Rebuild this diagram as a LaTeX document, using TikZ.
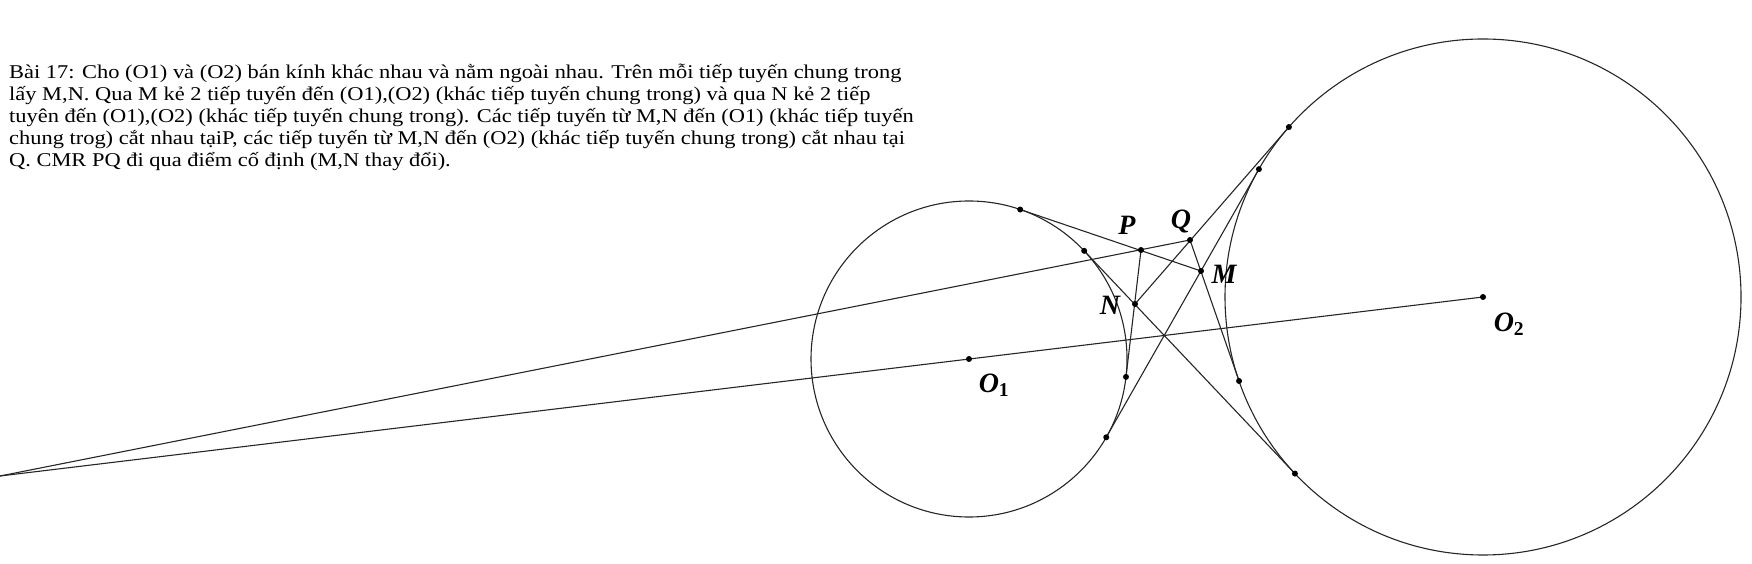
\documentclass[tikz,border=0pt]{standalone}
\usepackage{fontspec}
\setmainfont{Liberation Serif}
\newfontfamily\txtfont{Liberation Serif}[FakeStretch=1.15]
\usetikzlibrary{calc}
\begin{document}
\begin{tikzpicture}[x=1pt,y=1pt,
  geo/.style={line width=1.1pt, draw=black!85},
  dotpt/.style={circle, fill=black, inner sep=0pt, minimum size=6pt},
  lbl/.style={font=\fontsize{28}{28}\selectfont\bfseries\itshape, inner sep=0pt},
  txt/.style={font=\txtfont\fontsize{19.5}{22}\selectfont, anchor=base west, inner sep=0pt}]
\useasboundingbox (0,0) rectangle (1752,564);
% text
\node[txt] (t1) at (9,485) {Bài 17: Cho (O1) và (O2) bán kính khác nhau và nằm ngoài nhau. Trên mỗi tiếp tuyến chung trong};
\node[txt] (t2) at (9,463) {lấy M,N. Qua M kẻ 2 tiếp tuyến đến (O1),(O2) (khác tiếp tuyến chung trong) và qua N kẻ 2 tiếp};
\node[txt] (t3) at (9,441) {tuyên đến (O1),(O2) (khác tiếp tuyến chung trong). Các tiếp tuyến từ M,N đến (O1) (khác tiếp tuyến};
\node[txt] (t4) at (9,419) {chung trog) cắt nhau tạiP, các tiếp tuyến từ M,N đến (O2) (khác tiếp tuyến chung trong) cắt nhau tại};
\node[txt] (t5) at (9,397) {Q. CMR PQ đi qua điểm cố định (M,N thay đổi).};
% key points
\coordinate (S) at (0,88);
\coordinate (O1) at (969,205);
\coordinate (O2) at (1483,267);
\coordinate (P) at (1141,314);
\coordinate (Q) at (1190,324);
\coordinate (M) at (1201,293);
\coordinate (N) at (1135,260);
% tangency points
\coordinate (T1) at ($(O1)+(71.1:158pt)$);
\coordinate (A1) at ($(O1)+(43.2:158pt)$);
\coordinate (E1) at ($(O1)+(-6.5:158pt)$);
\coordinate (B1) at ($(O1)+(-29.7:158pt)$);
\coordinate (B2) at ($(O2)+(150.3:258pt)$);
\coordinate (A2) at ($(O2)+(223.2:258pt)$);
\coordinate (C2) at ($(O2)+(138.8:258pt)$);
\coordinate (D2) at ($(O2)+(199:258pt)$);
% circles
\draw[geo] (O1) circle[radius=158pt];
\draw[geo] (O2) circle[radius=258pt];
% lines
\draw[geo] (S) -- (O2);
\draw[geo] (S) -- (Q);
\draw[geo] (T1) -- (M);
\draw[geo] (A1) -- (A2);
\draw[geo] (B1) -- (B2);
\draw[geo] (N) -- (C2);
\draw[geo] (Q) -- (D2);
\draw[geo] (P) -- (E1);
% dots
\foreach \p in {O1,O2,P,Q,M,N,T1,A1,E1,B1,B2,A2,C2,D2}
  \node[dotpt] (d\p) at (\p) {};
% labels
\node[lbl] (lP) at (1127,339) {P};
\node[lbl] (lQ) at (1181,342) {Q};
\node[lbl] (lM) at (1224,290) {M};
\node[lbl] (lN) at (1110,259) {N};
\node[lbl] (lO1) at (994,179) {O\textsubscript{\upshape 1}};
\node[lbl] (lO2) at (1509,240) {O\textsubscript{\upshape 2}};
\end{tikzpicture}
\end{document}
